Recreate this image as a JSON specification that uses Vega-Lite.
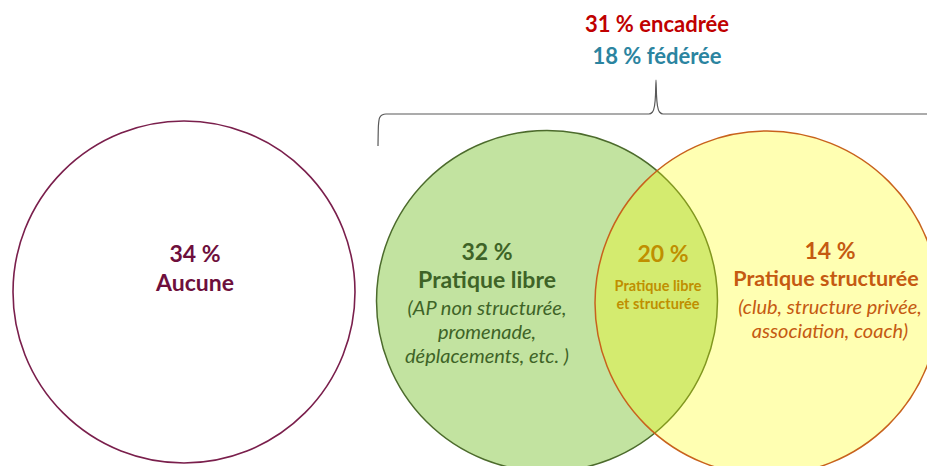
{
  "$schema": "https://vega.github.io/schema/vega-lite/v6.json",
  "width": 927,
  "height": 466,
  "autosize": {"type": "none"},
  "padding": 0,
  "background": "white",
  "config": {"view": {"stroke": null}},
  "datasets": {
    "circles": [
      {"set": "Aucune", "cx": 184, "cy": 292},
      {"set": "Pratique libre", "cx": 547, "cy": 301},
      {"set": "Pratique structurée", "cx": 767, "cy": 303}
    ],
    "brace": [
      {"i": 1, "x": 378, "y": 146},
      {"i": 2, "x": 378.4, "y": 126},
      {"i": 3, "x": 379.5, "y": 118},
      {"i": 4, "x": 382, "y": 115},
      {"i": 5, "x": 386, "y": 114},
      {"i": 6, "x": 649, "y": 114},
      {"i": 7, "x": 652.5, "y": 112},
      {"i": 8, "x": 654.5, "y": 106},
      {"i": 9, "x": 655.5, "y": 95},
      {"i": 10, "x": 656, "y": 80},
      {"i": 11, "x": 656.5, "y": 95},
      {"i": 12, "x": 657.5, "y": 106},
      {"i": 13, "x": 659.5, "y": 112},
      {"i": 14, "x": 663, "y": 114},
      {"i": 15, "x": 935, "y": 114}
    ],
    "labels": [
      {"text": "31 % encadrée", "x": 657, "y": 25, "group": "encadree", "style": "top"},
      {"text": "18 % fédérée", "x": 657, "y": 57, "group": "federee", "style": "top"},
      {"text": "34 %", "x": 195, "y": 255, "group": "aucune", "style": "head"},
      {"text": "Aucune", "x": 195, "y": 284, "group": "aucune", "style": "head"},
      {"text": "32 %", "x": 487, "y": 253, "group": "libre", "style": "head"},
      {"text": "Pratique libre", "x": 487, "y": 281, "group": "libre", "style": "head"},
      {"text": "(AP non structurée,", "x": 487, "y": 309, "group": "libre", "style": "note"},
      {"text": "promenade,", "x": 487, "y": 333, "group": "libre", "style": "note"},
      {"text": "déplacements, etc. )", "x": 487, "y": 357, "group": "libre", "style": "note"},
      {"text": "20 %", "x": 663, "y": 255, "group": "both", "style": "head"},
      {"text": "Pratique libre", "x": 658, "y": 287, "group": "both", "style": "small"},
      {"text": "et structurée", "x": 658, "y": 305, "group": "both", "style": "small"},
      {"text": "14 %", "x": 830, "y": 252, "group": "structuree", "style": "head"},
      {"text": "Pratique structurée", "x": 826, "y": 280, "group": "structuree", "style": "edge"},
      {"text": "(club, structure privée,", "x": 830, "y": 308, "group": "structuree", "style": "note"},
      {"text": "association, coach)", "x": 830, "y": 332, "group": "structuree", "style": "note"}
    ]
  },
  "encoding": {
    "x": {"type": "quantitative", "axis": null, "scale": {"domain": [0, 927], "nice": false, "zero": false}},
    "y": {"type": "quantitative", "axis": null, "scale": {"domain": [0, 466], "nice": false, "zero": false, "reverse": true}}
  },
  "layer": [
    {
      "data": {"name": "circles"},
      "transform": [{"filter": "datum.set === 'Aucune'"}],
      "mark": {"type": "point", "shape": "circle", "size": 116964, "filled": false, "fill": "white", "fillOpacity": 0, "stroke": "#7A1F4C", "strokeWidth": 1.6, "opacity": 1},
      "encoding": {"x": {"field": "cx", "type": "quantitative"}, "y": {"field": "cy", "type": "quantitative"}}
    },
    {
      "data": {"name": "circles"},
      "transform": [{"filter": "datum.set === 'Pratique libre'"}],
      "mark": {"type": "point", "shape": "circle", "size": 116281, "filled": true, "fill": "#C2E3A0", "fillOpacity": 1, "stroke": "#4C6B2C", "strokeWidth": 1.5, "opacity": 1},
      "encoding": {"x": {"field": "cx", "type": "quantitative"}, "y": {"field": "cy", "type": "quantitative"}}
    },
    {
      "data": {"name": "circles"},
      "transform": [{"filter": "datum.set === 'Pratique structurée'"}],
      "mark": {"type": "point", "shape": "circle", "size": 118336, "filled": true, "fill": "#FFFF00", "fillOpacity": 0.3, "stroke": "#C8621C", "strokeWidth": 1.5, "strokeOpacity": 1, "opacity": 1},
      "encoding": {"x": {"field": "cx", "type": "quantitative"}, "y": {"field": "cy", "type": "quantitative"}}
    },
    {
      "data": {"name": "brace"},
      "mark": {"type": "line", "color": "#595959", "strokeWidth": 1.2, "interpolate": "monotone"},
      "encoding": {"x": {"field": "x", "type": "quantitative"}, "y": {"field": "y", "type": "quantitative"}, "order": {"field": "i"}}
    },
    {
      "data": {"name": "labels"},
      "transform": [{"filter": "datum.style === 'top'"}],
      "mark": {"type": "text", "font": "Lato", "fontWeight": "bold", "fontSize": 22, "align": "center", "baseline": "middle"},
      "encoding": {
        "x": {"field": "x", "type": "quantitative"},
        "y": {"field": "y", "type": "quantitative"},
        "text": {"field": "text"},
        "color": {"field": "group", "type": "nominal", "legend": null, "scale": {"domain": ["encadree", "federee", "aucune", "libre", "both", "structuree"], "range": ["#C00000", "#2B84A0", "#6E0F3C", "#3E6327", "#BF8F00", "#C55A11"]}}
      }
    },
    {
      "data": {"name": "labels"},
      "transform": [{"filter": "datum.style === 'head'"}],
      "mark": {"type": "text", "font": "Lato", "fontWeight": "bold", "fontSize": 23, "align": "center", "baseline": "middle"},
      "encoding": {
        "x": {"field": "x", "type": "quantitative"},
        "y": {"field": "y", "type": "quantitative"},
        "text": {"field": "text"},
        "color": {"field": "group", "type": "nominal", "legend": null, "scale": {"domain": ["encadree", "federee", "aucune", "libre", "both", "structuree"], "range": ["#C00000", "#2B84A0", "#6E0F3C", "#3E6327", "#BF8F00", "#C55A11"]}}
      }
    },
    {
      "data": {"name": "labels"},
      "transform": [{"filter": "datum.style === 'edge'"}],
      "mark": {"type": "text", "font": "Lato", "fontWeight": "bold", "fontSize": 21.5, "align": "center", "baseline": "middle"},
      "encoding": {
        "x": {"field": "x", "type": "quantitative"},
        "y": {"field": "y", "type": "quantitative"},
        "text": {"field": "text"},
        "color": {"field": "group", "type": "nominal", "legend": null, "scale": {"domain": ["encadree", "federee", "aucune", "libre", "both", "structuree"], "range": ["#C00000", "#2B84A0", "#6E0F3C", "#3E6327", "#BF8F00", "#C55A11"]}}
      }
    },
    {
      "data": {"name": "labels"},
      "transform": [{"filter": "datum.style === 'note'"}],
      "mark": {"type": "text", "font": "Lato", "fontStyle": "italic", "fontSize": 20, "align": "center", "baseline": "middle"},
      "encoding": {
        "x": {"field": "x", "type": "quantitative"},
        "y": {"field": "y", "type": "quantitative"},
        "text": {"field": "text"},
        "color": {"field": "group", "type": "nominal", "legend": null, "scale": {"domain": ["encadree", "federee", "aucune", "libre", "both", "structuree"], "range": ["#C00000", "#2B84A0", "#6E0F3C", "#3E6327", "#BF8F00", "#C55A11"]}}
      }
    },
    {
      "data": {"name": "labels"},
      "transform": [{"filter": "datum.style === 'small'"}],
      "mark": {"type": "text", "font": "Lato", "fontWeight": "bold", "fontSize": 14.5, "align": "center", "baseline": "middle"},
      "encoding": {
        "x": {"field": "x", "type": "quantitative"},
        "y": {"field": "y", "type": "quantitative"},
        "text": {"field": "text"},
        "color": {"field": "group", "type": "nominal", "legend": null, "scale": {"domain": ["encadree", "federee", "aucune", "libre", "both", "structuree"], "range": ["#C00000", "#2B84A0", "#6E0F3C", "#3E6327", "#BF8F00", "#C55A11"]}}
      }
    }
  ]
}
